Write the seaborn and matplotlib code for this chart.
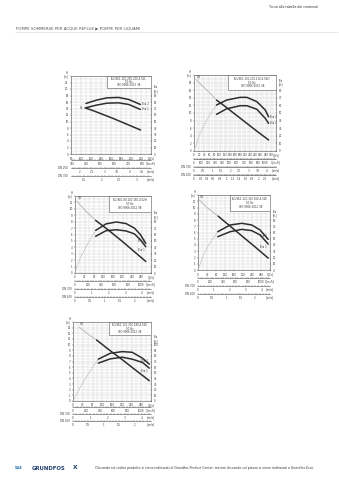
import numpy as np
import matplotlib
matplotlib.use("Agg")
import matplotlib.pyplot as plt
from matplotlib.patches import Rectangle
from matplotlib.lines import Line2D
from matplotlib.ticker import MultipleLocator
import seaborn as sns

sns.set_theme(style="white")
plt.rcParams["font.family"] = ["DejaVu Sans"]

FIG_W, FIG_H = 339, 480
DARK = "#2e2e2e"
LIGHT = "#c0c0c0"
GRID = "#cdcdcd"
TXT = "#3a3a3a"
FS = 1.9

# ---- SL1/SE1.110.250.220.4.52L
C1_MODEL = "SL1/SE1.110.250.220.4.52L"
C1_Q_H = [108, 125, 145, 165, 185, 205, 219]
C1_H = [14.2, 13.3, 12.1, 10.9, 9.6, 8.3, 7.4]
C1_Q_ETA = [110, 131.5, 152, 175, 195, 218.6]
C1_ETA2 = [77.8, 83.0, 86.4, 87.0, 84.0, 76.3]
C1_ETA1 = [71.2, 75.3, 78.2, 78.7, 76.3, 68.6]

# ---- SL1/SE1.150.200.110.4.52H
C2_MODEL = "SL1/SE1.150.200.110.4.52H"
C2_Q_HX = [8, 30, 60, 88]
C2_HX = [18.8, 17.3, 15.4, 13.4]
C2_Q_H = [88, 120, 160, 200, 240, 291]
C2_H = [13.4, 11.8, 9.7, 7.6, 5.5, 2.9]
C2_Q_ETA = [88, 127, 180, 206, 245, 278, 291]
C2_ETA2 = [60.5, 67.0, 70.6, 70.6, 65.0, 54.0, 45.0]
C2_ETA1 = [48.2, 55.5, 59.6, 59.6, 55.0, 43.0, 36.4]
C2_Q_EX = [0, 20, 45, 70, 88]
C2_EX = [0, 20, 38, 52, 60.5]

# ---- SL1/SE1.80.100.185.4.52H
C3_MODEL = "SL1/SE1.80.100.185.4.52H"
C3_Q_HX = [7, 44, 87]
C3_HX = [11.2, 9.7, 8.2]
C3_Q_H = [87, 140, 200, 260, 298]
C3_H = [8.2, 6.7, 4.9, 3.0, 1.8]
C3_Q_ETA = [87, 131, 175, 215, 250, 275, 298]
C3_ETA2 = [66.4, 76.6, 79.5, 77.0, 70.0, 60.0, 46.0]
C3_ETA1 = [57.2, 66.0, 67.4, 65.5, 61.0, 52.0, 40.9]
C3_Q_EX = [0, 20, 45, 70, 87]
C3_EX = [0, 22, 40, 56, 66.4]

# ---- SL1/SE1.120.300.160.4.52E
C4_MODEL = "SL1/SE1.120.300.160.4.52E"
C4_Q_HX = [6, 40, 90]
C4_HX = [11.2, 10.0, 8.6]
C4_Q_H = [90, 140, 200, 260, 312]
C4_H = [8.6, 7.1, 5.3, 3.5, 1.9]
C4_Q_ETA = [88, 143, 195, 239, 276, 312]
C4_ETA2 = [61.3, 72.0, 74.7, 72.0, 64.0, 49.0]
C4_ETA1 = [53.3, 61.3, 65.0, 63.0, 56.0, 41.6]
C4_Q_EX = [0, 20, 44, 68, 88]
C4_EX = [0, 20, 38, 51, 61.3]

# ---- SL1/SE1.120.300.180.4.52E
C5_MODEL = "SL1/SE1.120.300.180.4.52E"
C5_Q_HX = [25, 63, 97]
C5_HX = [13.1, 11.8, 10.8]
C5_Q_H = [97, 150, 200, 250, 313]
C5_H = [10.8, 9.0, 7.4, 5.7, 3.6]
C5_Q_ETA = [104, 153, 202, 243, 285, 313]
C5_ETA2 = [74.1, 84.6, 87.5, 86.3, 75.8, 65.3]
C5_ETA1 = [67.1, 74.7, 77.6, 74.1, 68.3, 58.3]
C5_Q_EX = [0, 30, 60, 84, 104]
C5_EX = [0, 25, 46, 62, 74.1]

# auxiliary scales: (line y, pipe DN or None for m3/h, first tick, last tick, step, unit, label)
C1_ROWS = [(160, None, 300, 800, 100, "Q[m³/h]", ""),
           (168, 250, 2.0, 4.5, 0.5, "v[m/s]", "DN 250"),
           (176, 300, 1.5, 3.0, 0.5, "v[m/s]", "DN 300")]
C2_ROWS = [(159, None, 0, 1000, 100, "Q[m³/h]", ""),
           (167, 300, 0, 4.0, 0.5, "v[m/s]", "DN 300"),
           (175, 400, 0, 2.2, 0.2, "v[m/s]", "DN 400")]
C3_ROWS = [(281, None, 0, 1000, 200, "Q[m³/h]", ""),
           (289, 300, 0, 4, 1, "v[m/s]", "DN 300"),
           (297, 400, 0, 2.0, 0.5, "v[m/s]", "DN 400")]
C4_ROWS = [(278, None, 0, 1000, 200, "Q[m³/h]", ""),
           (286, 300, 0, 4, 1, "v[m/s]", "DN 300"),
           (294, 400, 0, 2.0, 0.5, "v[m/s]", "DN 400")]
C5_ROWS = [(407, None, 0, 1000, 200, "Q[m³/h]", ""),
           (414, 300, 0, 4, 1, "v[m/s]", "DN 300"),
           (421, 400, 0, 2.0, 0.5, "v[m/s]", "DN 400")]

CHARTS = [
    dict(model=C1_MODEL, frame=(71, 76, 151, 154), q=(80, 240, 20), h=(0, 24, 2),
         eta=(120, 90, 100), box=(0.45, 0.84), rows=C1_ROWS, lab_in=False,
         qh=C1_Q_H, hh=C1_H, qhx=None, hhx=None, qe=C1_Q_ETA, e2=C1_ETA2, e1=C1_ETA1,
         qex=None, ex=None),
    dict(model=C2_MODEL, frame=(194, 75, 276, 151), q=(0, 320, 20), h=(0, 20, 2),
         eta=(100, 80, 90), box=(0.42, 0.80), rows=C2_ROWS, lab_in=False,
         qh=C2_Q_H, hh=C2_H, qhx=C2_Q_HX, hhx=C2_HX, qe=C2_Q_ETA, e2=C2_ETA2, e1=C2_ETA1,
         qex=C2_Q_EX, ex=C2_EX),
    dict(model=C3_MODEL, frame=(75, 196, 151, 273), q=(0, 320, 40), h=(0, 12, 1),
         eta=(120, 80, 90), box=(0.45, 0.79), rows=C3_ROWS, lab_in=True,
         qh=C3_Q_H, hh=C3_H, qhx=C3_Q_HX, hhx=C3_HX, qe=C3_Q_ETA, e2=C3_ETA2, e1=C3_ETA1,
         qex=C3_Q_EX, ex=C3_EX),
    dict(model=C4_MODEL, frame=(198, 195, 270, 270), q=(0, 320, 40), h=(0, 12, 1),
         eta=(120, 80, 90), box=(0.45, 0.79), rows=C4_ROWS, lab_in=True,
         qh=C4_Q_H, hh=C4_H, qhx=C4_Q_HX, hhx=C4_HX, qe=C4_Q_ETA, e2=C4_ETA2, e1=C4_ETA1,
         qex=C4_Q_EX, ex=C4_EX),
    dict(model=C5_MODEL, frame=(73, 322, 151, 401), q=(0, 320, 40), h=(0, 14, 1),
         eta=(140, 100, 110), box=(0.46, 0.83), rows=C5_ROWS, lab_in=True,
         qh=C5_Q_H, hh=C5_H, qhx=C5_Q_HX, hhx=C5_HX, qe=C5_Q_ETA, e2=C5_ETA2, e1=C5_ETA1,
         qex=C5_Q_EX, ex=C5_EX),
]

fig = plt.figure(figsize=(FIG_W / 100, FIG_H / 100), dpi=100)


def px_axes(l, t, r, b):
    return fig.add_axes([l / FIG_W, 1 - b / FIG_H, (r - l) / FIG_W, (b - t) / FIG_H])


def fmt(v):
    return f"{v:g}" if abs(v - round(v)) < 1e-9 else f"{v:.1f}"


def draw_chart(c):
    l, t, r, b = c["frame"]
    q0, q1, qs = c["q"]
    h0, h1, hs = c["h"]
    eta_max, eta_top, eta_head = c["eta"]

    ax = px_axes(l, t, r, b)
    ax.set_facecolor("white")
    ax.set_xlim(q0, q1)
    ax.set_ylim(h0, h1)
    xt = np.arange(q0, q1 + 1e-6, qs)
    xl = [fmt(v) for v in xt]
    xl[-1] = "Q[l/s]"
    ax.set_xticks(xt, xl)
    ax.xaxis.set_minor_locator(MultipleLocator(qs / 2))
    yt = np.arange(h0, h1 + 1e-6, hs)
    yl = [fmt(v) for v in yt]
    yl[-1] = "[m]"
    ax.set_yticks(yt, yl)
    ax.yaxis.set_minor_locator(MultipleLocator(hs / 2))
    ax.grid(which="major", color=GRID, lw=0.35)
    ax.grid(which="minor", color=GRID, lw=0.25)
    ax.tick_params(which="both", labelsize=FS, length=1.0, width=0.3, pad=0.8,
                   colors=TXT, bottom=True, left=True)
    ax.tick_params(which="minor", length=0)
    for s in ax.spines.values():
        s.set_linewidth(0.4)
        s.set_color("#555555")
    ax.text(-0.035, 1.015, "H", transform=ax.transAxes, fontsize=FS, ha="right",
            va="bottom", color=TXT)

    tw = ax.twinx()
    tw.set_ylim(0, eta_max)
    et = np.arange(0, eta_top + 1e-6, 10)
    tw.set_yticks(et, [fmt(v) for v in et])
    tw.grid(False)
    tw.tick_params(labelsize=FS, length=1.0, width=0.3, pad=0.8, colors=TXT, right=True)
    for s in tw.spines.values():
        s.set_visible(False)
    tw.text(1.035, eta_head, "Eta\n[%]", transform=tw.get_yaxis_transform(),
            fontsize=FS, ha="left", va="center", color=TXT, linespacing=1.0)

    # pump curves
    if c["qhx"] is not None:
        sns.lineplot(x=c["qhx"], y=c["hhx"], ax=ax, color=LIGHT, lw=0.8)
        sns.lineplot(x=c["qex"], y=c["ex"], ax=tw, color=LIGHT, lw=0.8,
                     linestyle=(0, (1.2, 0.8)))
        ax.text(c["qhx"][0] + (q1 - q0) * 0.01, c["hhx"][0] + (h1 - h0) * 0.015, "QH",
                fontsize=FS, color=TXT, ha="left", va="bottom")
    else:
        ax.text(c["qh"][0] - (q1 - q0) * 0.015, c["hh"][0], "H1",
                fontsize=FS, color=TXT, ha="right", va="center")
    sns.lineplot(x=c["qh"], y=c["hh"], ax=ax, color=DARK, lw=1.1)
    sns.lineplot(x=c["qe"], y=c["e2"], ax=tw, color=DARK, lw=1.1)
    sns.lineplot(x=c["qe"], y=c["e1"], ax=tw, color=DARK, lw=1.1)
    dx = (q1 - q0) * 0.015
    de = eta_max * 0.012
    if c["lab_in"]:
        tw.text(c["qe"][-1] - dx, c["e2"][-1] + de, "Eta 2", fontsize=FS, color=TXT,
                va="bottom", ha="right")
        tw.text(c["qe"][-1] - dx, c["e1"][-1] - de, "Eta 1", fontsize=FS, color=TXT,
                va="top", ha="right")
    else:
        tw.text(c["qe"][-1] + dx, c["e2"][-1], "Eta 2", fontsize=FS, color=TXT,
                va="center", ha="left")
        tw.text(c["qe"][-1] + dx, c["e1"][-1], "Eta 1", fontsize=FS, color=TXT,
                va="center", ha="left")
    ax.set_xlim(q0, q1)
    ax.set_ylim(h0, h1)
    tw.set_ylim(0, eta_max)

    # model box
    bx, by = c["box"]
    tw.add_patch(Rectangle((bx, by), 1 - bx, 1 - by, transform=ax.transAxes,
                           facecolor="white", edgecolor="#555555", lw=0.4, zorder=6))
    cx = (bx + 1) / 2
    hgt = 1 - by
    for k, s in enumerate([c["model"], "50 Hz", "ISO 9906:2012 3B"]):
        tw.text(cx, 1 - hgt * (0.25 + 0.25 * k), s, transform=ax.transAxes,
                fontsize=FS, ha="center", va="center", color=TXT, zorder=7)

    # auxiliary flow / velocity scales
    for (y, dn, a, z, st, unit, lab) in c["rows"]:
        if dn is None:
            k = 3.6
        else:
            k = 1.0 / (1000.0 * np.pi * (dn / 1000.0) ** 2 / 4.0)
        rax = px_axes(l, y - 0.5, r, y)
        rax.set_facecolor("none")
        rax.set_xlim(q0 * k, q1 * k)
        rax.set_yticks([])
        for s in ("top", "left", "right"):
            rax.spines[s].set_visible(False)
        rax.spines["bottom"].set_linewidth(0.4)
        rax.spines["bottom"].set_color("#555555")
        ticks = np.arange(a, z + st * 1e-3, st)
        rax.set_xticks(ticks, [fmt(v) for v in ticks])
        rax.xaxis.set_minor_locator(MultipleLocator(st / 5))
        rax.tick_params(which="major", direction="inout", length=1.8, width=0.3,
                        labelsize=FS, pad=0.5, colors=TXT, bottom=True)
        rax.tick_params(which="minor", direction="inout", length=1.0, width=0.25,
                        bottom=True, color=TXT)
        rax.text(1.0, -2.6, unit, transform=rax.transAxes, fontsize=FS, ha="center",
                 va="top", color=TXT)
        if lab:
            fig.text((l - 3) / FIG_W, 1 - y / FIG_H, lab, fontsize=FS, ha="right",
                     va="center", color=TXT)


for c in CHARTS:
    draw_chart(c)

# page header
fig.text(318 / FIG_W, 1 - 7 / FIG_H, "Torna alla tabella dei contenuti", fontsize=2.3,
         ha="right", va="center", color="#333333")
fig.text(16 / FIG_W, 1 - 28.5 / FIG_H, "POMPE SOMMERSE PER ACQUE REFLUE ▶ POMPE PER LIQUAMI",
         fontsize=2.85, ha="left", va="center", color="#555555")
fig.add_artist(Line2D([15 / FIG_W, 338 / FIG_W], [1 - 32 / FIG_H, 1 - 32 / FIG_H],
                      color="#d5d5d5", lw=0.4))

# page footer
fig.text(15 / FIG_W, 1 - 468 / FIG_H, "544", fontsize=2.6, ha="left", va="center",
         color="#1f6fb4", fontweight="bold")
fig.text(32 / FIG_W, 1 - 468 / FIG_H, "GRUNDFOS", fontsize=3.9, ha="left", va="center",
         color="#21416d", fontweight="bold")
fig.text(73 / FIG_W, 1 - 467.5 / FIG_H, "X", fontsize=4.2, ha="left", va="center",
         color="#21416d", fontweight="bold")
fig.text(95 / FIG_W, 1 - 467.5 / FIG_H,
         "Cliccando sul codice prodotto si viene indirizzati al Grundfos Product Center, "
         "mentre cliccando sul prezzo si viene indirizzati a Grundfos Ecat.",
         fontsize=2.25, ha="left", va="center", color="#333333")

fig.savefig("out.png", dpi=100, facecolor="white")
